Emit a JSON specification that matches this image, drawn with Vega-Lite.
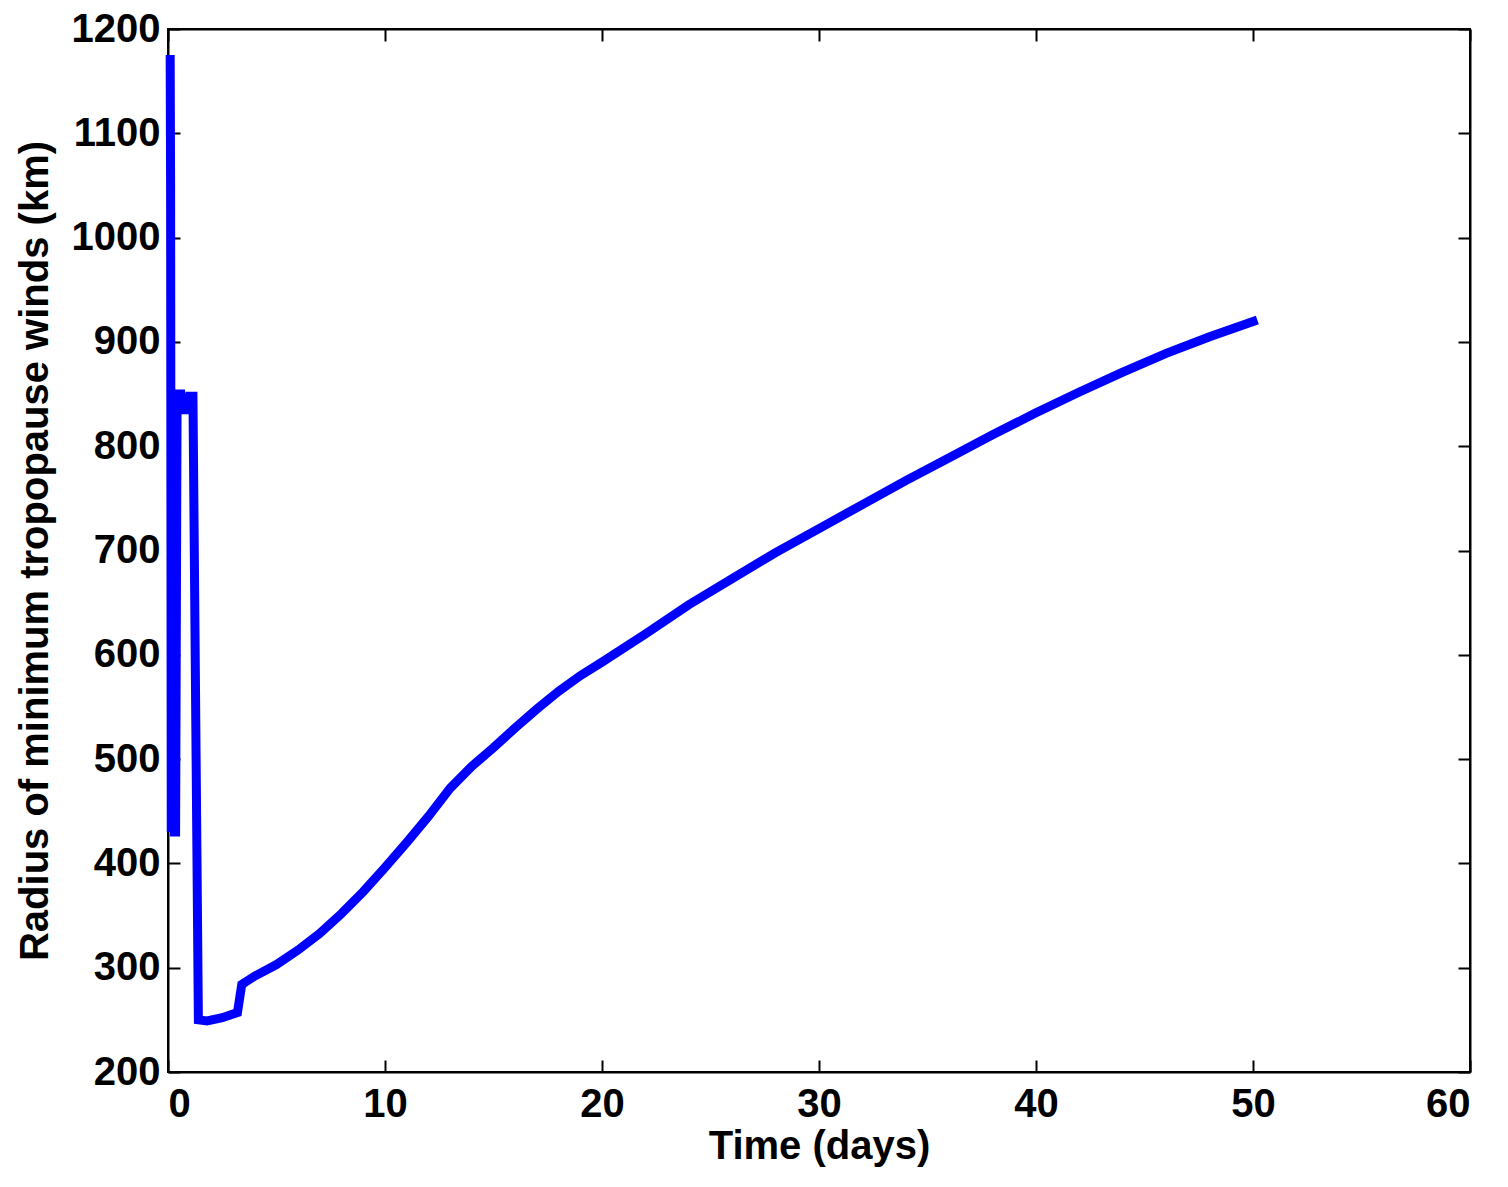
{
  "$schema": "https://vega.github.io/schema/vega-lite/v6.json",
  "width": 1302,
  "height": 1043,
  "padding": {"left": 15, "top": 9, "right": 20, "bottom": 5},
  "background": "white",
  "data": {"values": [
    {"t": 0.1, "r": 1175}, {"t": 0.12, "r": 1050}, {"t": 0.15, "r": 430},
    {"t": 0.2, "r": 500}, {"t": 0.25, "r": 650}, {"t": 0.3, "r": 430},
    {"t": 0.35, "r": 430}, {"t": 0.42, "r": 850}, {"t": 0.6, "r": 850},
    {"t": 0.7, "r": 835}, {"t": 0.9, "r": 835}, {"t": 1.0, "r": 848},
    {"t": 1.15, "r": 848}, {"t": 1.4, "r": 250}, {"t": 1.8, "r": 249},
    {"t": 2.5, "r": 252}, {"t": 3.2, "r": 257}, {"t": 3.4, "r": 284},
    {"t": 4, "r": 292}, {"t": 5, "r": 303}, {"t": 6, "r": 317},
    {"t": 7, "r": 333}, {"t": 8, "r": 352}, {"t": 9, "r": 373},
    {"t": 10, "r": 396}, {"t": 11, "r": 420}, {"t": 12, "r": 445},
    {"t": 13, "r": 472}, {"t": 14, "r": 493}, {"t": 15, "r": 511},
    {"t": 16, "r": 530}, {"t": 17, "r": 548}, {"t": 18, "r": 565},
    {"t": 19, "r": 580}, {"t": 20, "r": 593}, {"t": 22, "r": 620},
    {"t": 24, "r": 648}, {"t": 26, "r": 673}, {"t": 28, "r": 698},
    {"t": 30, "r": 721}, {"t": 32, "r": 744}, {"t": 34, "r": 767},
    {"t": 36, "r": 789}, {"t": 38, "r": 811}, {"t": 40, "r": 832},
    {"t": 42, "r": 852}, {"t": 44, "r": 871}, {"t": 46, "r": 889},
    {"t": 48, "r": 905}, {"t": 50.2, "r": 921}
  ]},
  "layer": [
    {
      "mark": {"type": "line", "color": "#0000ff", "strokeWidth": 9, "strokeJoin": "miter"},
      "encoding": {
        "x": {"field": "t", "type": "quantitative", "title": "Time (days)",
              "scale": {"domain": [0, 60]}, "axis": {"values": [0,10,20,30,40,50,60], "format": "d", "labelPadding": 24, "titlePadding": 2}},
        "y": {"field": "r", "type": "quantitative", "title": "Radius of minimum tropopause winds (km)",
              "scale": {"domain": [200, 1200]}, "axis": {"values": [200,300,400,500,600,700,800,900,1000,1100,1200], "format": "d", "titlePadding": 16}}
      }
    },
    {
      "mark": {"type": "line", "opacity": 0},
      "encoding": {
        "x": {"field": "t", "type": "quantitative", "scale": {"domain": [0, 60]},
              "axis": {"orient": "top", "labels": false, "title": null, "values": [0,10,20,30,40,50,60]}},
        "y": {"field": "r", "type": "quantitative", "scale": {"domain": [200, 1200]},
              "axis": {"orient": "right", "labels": false, "title": null, "values": [200,300,400,500,600,700,800,900,1000,1100,1200]}}
      }
    }
  ],
  "resolve": {"axis": {"x": "independent", "y": "independent"}},
  "config": {
    "view": {"stroke": "black", "strokeWidth": 2},
    "axis": {
      "grid": false, "domainColor": "black", "domainWidth": 2, "tickColor": "black",
      "tickSize": -12, "tickWidth": 2, "labelFont": "Liberation Sans", "labelFontWeight": "bold",
      "labelFontSize": 40, "labelColor": "black", "titleFont": "Liberation Sans",
      "titleFontWeight": "bold", "titleFontSize": 40, "titleColor": "black", "labelPadding": 20
    }
  }
}
